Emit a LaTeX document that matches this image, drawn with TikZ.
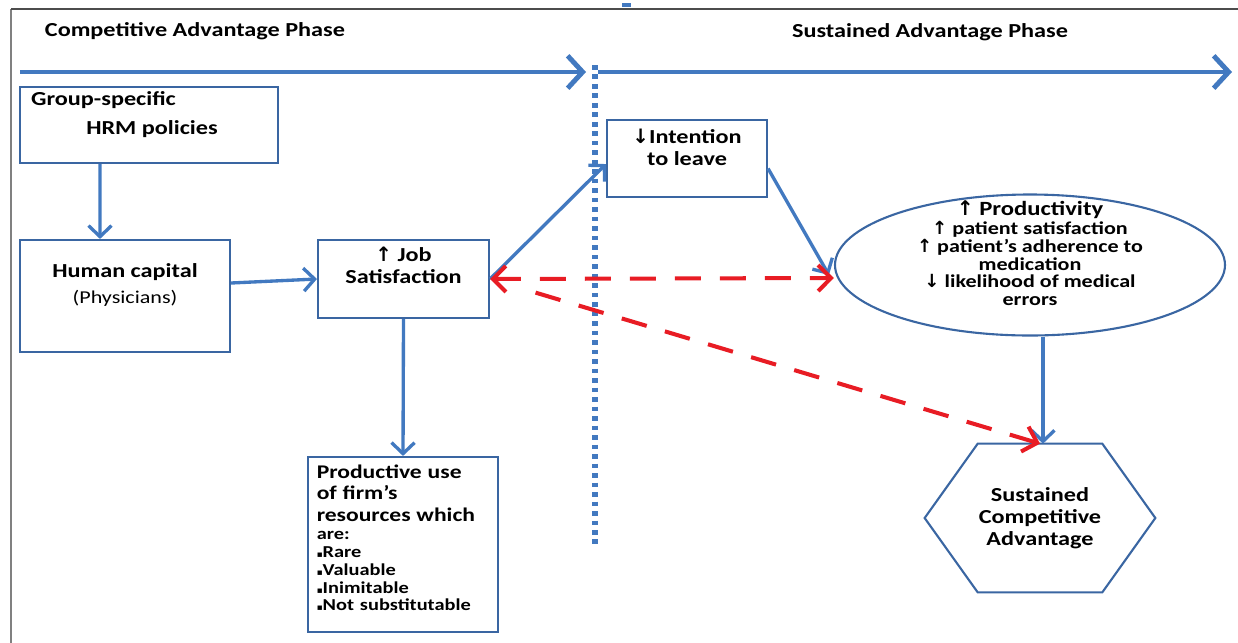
\documentclass[tikz,border=0pt]{standalone}
\usepackage{fontspec}
\setmainfont{Carlito}[FakeStretch=1.22]
\newfontfamily\symfont{DejaVu Sans}
\usetikzlibrary{arrows.meta,positioning,shapes.geometric,calc}
\definecolor{linblue}{RGB}{66,121,192}
\definecolor{boxblue}{RGB}{58,102,162}
\definecolor{dashred}{RGB}{232,28,36}
\newcommand{\uparr}{{\symfont ↑}}
\newcommand{\dnarr}{{\symfont ↓}}
\newcommand{\sqbul}{{\symfont\fontsize{5}{5}\selectfont ▪}}
\begin{document}
\begin{tikzpicture}[
box/.style={draw=boxblue,line width=1.2pt},
txt/.style={font=\fontsize{11.3}{12.4}\selectfont\bfseries,align=center},
arr/.style={-{Straight Barb[length=2.2mm,width=4.6mm]},linblue,line width=1.9pt},
rarr/.style={>={Straight Barb[length=2.6mm,width=5.2mm]},dashred,line width=2.3pt,dash pattern=on 0.52cm off 0.38cm},
phase/.style={-{Straight Barb[length=3mm,width=6.5mm]},linblue,line width=2.8pt}]
\useasboundingbox (0,0) rectangle (24.76,-12.84);
\draw[gray,line width=1.4pt](0.22,-12.9)--(0.22,-0.18);
\draw[gray!60!black,line width=1.2pt](0.22,-0.18)--(24.9,-0.18);
\draw[linblue,line width=2pt](12.44,-0.1)--(12.62,-0.1);
% phases
\node[txt](cap) at (3.9,-0.62){Competitive Advantage Phase};
\node[txt](sap) at (18.6,-0.64){Sustained Advantage Phase};
\coordinate(ph0) at (0.4,-1.44);\coordinate(ph1) at (11.72,-1.44);
\coordinate(ph2) at (11.96,-1.44);\coordinate(ph3) at (24.64,-1.44);
\draw[phase](ph0)--(ph1);\draw[phase](ph2)--(ph3);
\coordinate(dv0) at (11.9,-1.3);\coordinate(dv1) at (11.9,-10.9);
\draw[linblue,line width=3.2pt,dash pattern=on 2.6pt off 2.8pt](dv0)--(dv1);
% boxes
\node[box,minimum width=5.16cm,minimum height=1.52cm](hrm) at (2.98,-2.5){};
\node[txt,anchor=north west](grp) at ([shift={(0.12,0.02)}]hrm.north west){Group-specific};
\node[txt](hrmt) at ([shift={(0.06,-0.08)}]hrm.center){HRM policies};
\node[box,minimum width=4.2cm,minimum height=2.24cm](hc) at (2.5,-5.92){};
\node[txt](hct) at ([yshift=0.48cm]hc.center){Human capital};
\node[font=\fontsize{10.3}{12}\selectfont](phy) at ([yshift=-0.52cm]hct.center){(Physicians)};
\node[box,minimum width=3.42cm,minimum height=1.56cm](js) at (8.07,-5.58){};
\node[txt](jst) at ([yshift=0.28cm]js.center){\uparr\ Job\\Satisfaction};
\node[box,minimum width=3.8cm,minimum height=3.5cm](pru) at (8.06,-10.89){};
\node[text width=3.45cm,align=left,font=\bfseries](prut) at ([yshift=0.13cm]pru.center){%
{\fontsize{11}{12.2}\selectfont Productive use\\of firm’s\\resources which\par}%
{\fontsize{9.5}{10.2}\selectfont are:\\\sqbul Rare\\\sqbul Valuable\\\sqbul Inimitable\\\sqbul Not substitutable\par}};
\node[box,minimum width=3.2cm,minimum height=1.54cm](itl) at (13.74,-3.17){};
\node[txt](itlt) at ([yshift=0.22cm]itl.center){\dnarr Intention\\to leave};
\node[box,ellipse,minimum width=7.8cm,minimum height=2.82cm](prd) at (20.6,-5.3){};
\node[align=center,font=\fontsize{10.3}{10}\selectfont\bfseries](prdt) at ([yshift=0.24cm]prd.center){%
{\fontsize{11.5}{12}\selectfont\uparr\ Productivity}\\[1pt]
\uparr\ patient satisfaction\\\uparr\ patient’s adherence to\\medication\\\dnarr\ likelihood of medical\\errors};
\node[minimum width=4.6cm,minimum height=2.96cm](sca) at (20.8,-10.36){};
\draw[box](sca.west)--($(sca.north west)!0.23!(sca.north east)$)--($(sca.north east)!0.23!(sca.north west)$)
--(sca.east)--($(sca.south east)!0.23!(sca.south west)$)--($(sca.south west)!0.23!(sca.south east)$)--cycle;
\node[txt](scat) at (sca.center){Sustained\\Competitive\\Advantage};
% links
\draw[arr]([xshift=-0.98cm]hrm.south)--([xshift=-0.5cm]hc.north);
\draw[arr]([yshift=0.26cm]hc.east)--(js.west);
\draw[arr](js.south)--(pru.north);
\draw[arr](js.east)--([yshift=0.68cm]itl.south west);
\draw[arr]([yshift=-0.2cm]itl.east)--([shift={(-0.1,-0.2)}]prd.west);
\draw[arr]([xshift=0.06cm]prd.south -| sca.north)--([xshift=0.06cm]sca.north);
\draw[rarr,<->](js.east)--([yshift=-0.26cm]prd.west);
\draw[rarr,->,shorten <=0.95cm](js.east)--(sca.north);
\end{tikzpicture}
\end{document}
